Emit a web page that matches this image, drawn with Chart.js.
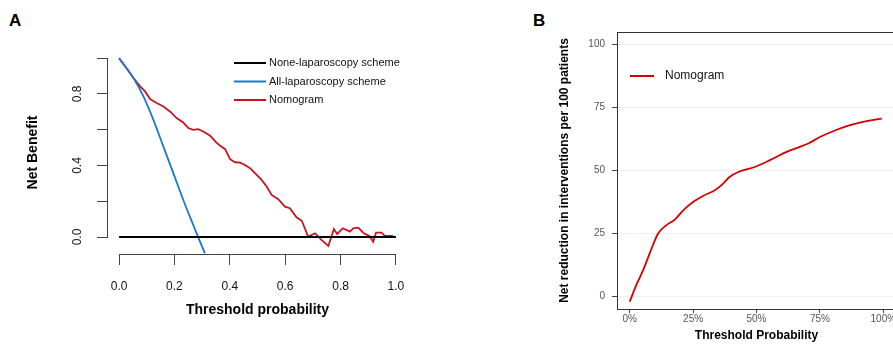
<!DOCTYPE html>
<html><head><meta charset="utf-8">
<script src="https://cdn.jsdelivr.net/npm/chart.js@4.4.1/dist/chart.umd.min.js"></script>
<style>
html,body{margin:0;padding:0;background:#fff;width:893px;height:345px;overflow:hidden;position:relative;font-family:"Liberation Sans",Arial,sans-serif}
#wa{position:absolute;left:0;top:0;width:430px;height:345px}
#wb{position:absolute;left:470px;top:0;width:430px;height:345px}
.pl{position:absolute;font-weight:bold;font-size:17px;line-height:17px;color:#000}
</style></head><body>
<div class="pl" style="left:9px;top:12px">A</div>
<div class="pl" style="left:533px;top:12px">B</div>
<div id="wa"><canvas id="ca" width="430" height="345"></canvas></div>
<div id="wb"><canvas id="cb" width="430" height="345"></canvas></div>
<script>
// ---------- Panel A data ----------
const seriesNamesA = ['None-laparoscopy scheme', 'All-laparoscopy scheme', 'Nomogram'];
const noneX = [0, 1];
const noneY = [0, 0];
const allX = [0, 0.052, 0.088, 0.124, 0.160, 0.196, 0.232, 0.268, 0.290, 0.310];
const allY = [1.0, 0.889, 0.786, 0.655, 0.506, 0.357, 0.207, 0.067, -0.017, -0.091];
const nomX = [0, 0.026, 0.052, 0.076, 0.094, 0.112, 0.136, 0.160, 0.184, 0.208, 0.232, 0.250, 0.268, 0.286, 0.304, 0.328, 0.350, 0.365, 0.383, 0.401, 0.419, 0.437, 0.455, 0.473, 0.497, 0.515, 0.533, 0.551, 0.575, 0.599, 0.617, 0.641, 0.660, 0.671, 0.683, 0.708, 0.732, 0.756, 0.776, 0.788, 0.808, 0.834, 0.846, 0.864, 0.884, 0.904, 0.918, 0.928, 0.948, 0.960, 0.990];
const nomY = [1.000, 0.945, 0.889, 0.842, 0.814, 0.771, 0.749, 0.730, 0.702, 0.665, 0.640, 0.609, 0.599, 0.603, 0.590, 0.568, 0.530, 0.510, 0.491, 0.435, 0.418, 0.416, 0.403, 0.385, 0.347, 0.319, 0.282, 0.235, 0.211, 0.170, 0.161, 0.110, 0.091, 0.049, 0.002, 0.021, -0.017, -0.050, 0.045, 0.017, 0.049, 0.030, 0.049, 0.052, 0.021, 0.006, -0.026, 0.024, 0.024, 0.006, 0.006];
const xTicksA = [0, 0.2, 0.4, 0.6, 0.8, 1.0];
const xTickLabelsA = ['0.0', '0.2', '0.4', '0.6', '0.8', '1.0'];
const yTicksA = [0, 0.2, 0.4, 0.6, 0.8, 1.0];
const yTickLabelsA = ['0.0', '', '0.4', '', '0.8', ''];

// ---------- Panel B data ----------
const seriesNameB = 'Nomogram';
const thrB = [0, 0.026, 0.053, 0.079, 0.112, 0.145, 0.178, 0.211, 0.250, 0.289, 0.336, 0.362, 0.395, 0.428, 0.493, 0.553, 0.619, 0.671, 0.704, 0.750, 0.802, 0.869, 0.934, 0.994];
const redB = [-2.1, 4.5, 10.4, 17.1, 25.0, 28.3, 30.5, 34.2, 37.5, 39.9, 42.2, 44.2, 47.5, 49.4, 51.4, 54.1, 57.4, 59.4, 60.7, 63.3, 65.6, 68.0, 69.6, 70.6];
const xTicksB = [0, 0.25, 0.5, 0.75, 1.0];
const xTickLabelsB = ['0%', '25%', '50%', '75%', '100%'];
const yTicksB = [0, 25, 50, 75, 100];
const yTickLabelsB = ['0', '25', '50', '75', '100'];

const FONT = '"Liberation Sans", Arial, sans-serif';
Chart.defaults.font.family = FONT;
const zip = (xs, ys) => xs.map((x, i) => ({x: x, y: ys[i]}));
const setTicks = vals => s => { s.ticks = vals.map(v => ({value: v})); };
const labelFrom = (vals, labels) => v => { const i = vals.findIndex(t => Math.abs(t - v) < 1e-9); return i >= 0 ? labels[i] : ''; };

const legendPlugin = {
  id: 'manualLegend',
  afterDraw(chart, args, o) {
    const ctx = chart.ctx;
    ctx.save();
    ctx.font = o.font;
    ctx.textBaseline = 'middle';
    ctx.textAlign = 'left';
    chart.data.datasets.forEach((ds, i) => {
      const y = o.y + i * o.rowH;
      ctx.strokeStyle = ds.borderColor;
      ctx.lineWidth = o.lineWidth;
      ctx.beginPath();
      ctx.moveTo(o.x, y);
      ctx.lineTo(o.x + o.lineLen, y);
      ctx.stroke();
      ctx.fillStyle = o.color;
      ctx.fillText(ds.label, o.x + o.lineLen + o.gap, y);
    });
    ctx.restore();
  }
};

const rAxesPlugin = {
  id: 'rAxes',
  afterDraw(chart) {
    const {ctx, chartArea, scales} = chart;
    ctx.save();
    ctx.strokeStyle = '#444';
    ctx.lineWidth = 1;
    ctx.beginPath();
    const yb = Math.round(chartArea.bottom) + 0.5;
    ctx.moveTo(scales.x.getPixelForValue(xTicksA[0]), yb);
    ctx.lineTo(scales.x.getPixelForValue(xTicksA[xTicksA.length - 1]), yb);
    const xl = Math.round(chartArea.left) - 0.5;
    ctx.moveTo(xl, scales.y.getPixelForValue(yTicksA[0]));
    ctx.lineTo(xl, scales.y.getPixelForValue(yTicksA[yTicksA.length - 1]));
    ctx.stroke();
    ctx.restore();
  }
};

const framePlugin = {
  id: 'frame',
  afterDraw(chart) {
    const {ctx, chartArea} = chart;
    ctx.save();
    ctx.strokeStyle = '#333';
    ctx.lineWidth = 1;
    ctx.strokeRect(Math.round(chartArea.left) + 0.5, Math.round(chartArea.top) + 0.5,
      Math.round(chartArea.right - chartArea.left), Math.round(chartArea.bottom - chartArea.top));
    ctx.restore();
  }
};

// ---------- Chart A ----------
new Chart(document.getElementById('ca'), {
  type: 'line',
  data: {
    datasets: [
      {label: seriesNamesA[0], data: zip(noneX, noneY), borderColor: '#000000', borderWidth: 2, pointRadius: 0},
      {label: seriesNamesA[1], data: zip(allX, allY), borderColor: '#1a78c8', borderWidth: 1.8, pointRadius: 0, cubicInterpolationMode: 'monotone'},
      {label: seriesNamesA[2], data: zip(nomX, nomY), borderColor: '#c8141e', borderWidth: 1.8, pointRadius: 0}
    ]
  },
  options: {
    responsive: false, animation: false, events: [],
    layout: {padding: {top: 51, right: 23, left: 0, bottom: 0}},
    plugins: {
      legend: {display: false}, tooltip: {enabled: false},
      manualLegend: {x: 234, y: 63, rowH: 18.5, lineLen: 32, gap: 3, lineWidth: 2, font: '11px ' + FONT, color: '#111'}
    },
    scales: {
      x: {
        type: 'linear', min: -0.04, max: 1.04,
        afterBuildTicks: setTicks(xTicksA),
        afterFit: s => { s.height = 91; },
        border: {display: false},
        grid: {drawOnChartArea: false, drawTicks: true, tickLength: 11, tickColor: '#444', color: '#444'},
        ticks: {autoSkip: false, maxRotation: 0, padding: 14, color: '#111', font: {size: 12}, callback: labelFrom(xTicksA, xTickLabelsA)},
        title: {display: true, text: 'Threshold probability', color: '#000', font: {size: 14, weight: 'bold'}, padding: {top: 0, bottom: 26.6}}
      },
      y: {
        type: 'linear', min: -0.095, max: 1.04,
        afterBuildTicks: setTicks(yTicksA),
        afterFit: s => { s.width = 108; },
        border: {display: false},
        grid: {drawOnChartArea: false, drawTicks: true, tickLength: 11, tickColor: '#444', color: '#444'},
        ticks: {autoSkip: false, minRotation: 90, maxRotation: 90, crossAlign: 'center', padding: 10.6, color: '#111', font: {size: 12}, callback: labelFrom(yTicksA, yTickLabelsA)},
        title: {display: true, text: 'Net Benefit', color: '#000', font: {size: 14, weight: 'bold'}, padding: {top: 24.6, bottom: 0}}
      }
    }
  },
  plugins: [rAxesPlugin, legendPlugin]
});

// ---------- Chart B ----------
new Chart(document.getElementById('cb'), {
  type: 'line',
  data: {
    datasets: [
      {label: seriesNameB, data: zip(thrB, redB), borderColor: '#d40000', borderWidth: 1.8, pointRadius: 0, cubicInterpolationMode: 'monotone'}
    ]
  },
  options: {
    responsive: false, animation: false, events: [],
    layout: {padding: {top: 32, right: 4, left: 0, bottom: 0}},
    plugins: {
      legend: {display: false}, tooltip: {enabled: false},
      manualLegend: {x: 160, y: 76, rowH: 18, lineLen: 24, gap: 11, lineWidth: 2, font: '12px ' + FONT, color: '#111'}
    },
    scales: {
      x: {
        type: 'linear', min: -0.05, max: 1.05,
        afterBuildTicks: setTicks(xTicksB),
        afterFit: s => { s.height = 36; },
        border: {display: false},
        grid: {drawOnChartArea: false, drawTicks: true, tickLength: 4, tickColor: '#444', color: '#444'},
        ticks: {autoSkip: false, maxRotation: 0, padding: 0, color: '#555', font: {size: 10}, callback: labelFrom(xTicksB, xTickLabelsB)},
        title: {display: true, text: 'Threshold Probability', color: '#000', font: {size: 12, weight: 'bold'}, padding: {top: 0, bottom: 1.8}}
      },
      y: {
        type: 'linear', min: -5, max: 105,
        afterBuildTicks: setTicks(yTicksB),
        afterFit: s => { s.width = 147; },
        border: {display: false},
        grid: {drawOnChartArea: true, drawTicks: true, tickLength: 5, tickColor: '#444', color: '#efefef', lineWidth: 1},
        ticks: {autoSkip: false, padding: 7, color: '#555', font: {size: 10}, callback: labelFrom(yTicksB, yTickLabelsB)},
        title: {display: true, text: 'Net reduction in interventions per 100 patients', color: '#000', font: {size: 12, weight: 'bold'}, padding: {top: 87.8, bottom: 0}}
      }
    }
  },
  plugins: [framePlugin, legendPlugin]
});
</script>
</body></html>
